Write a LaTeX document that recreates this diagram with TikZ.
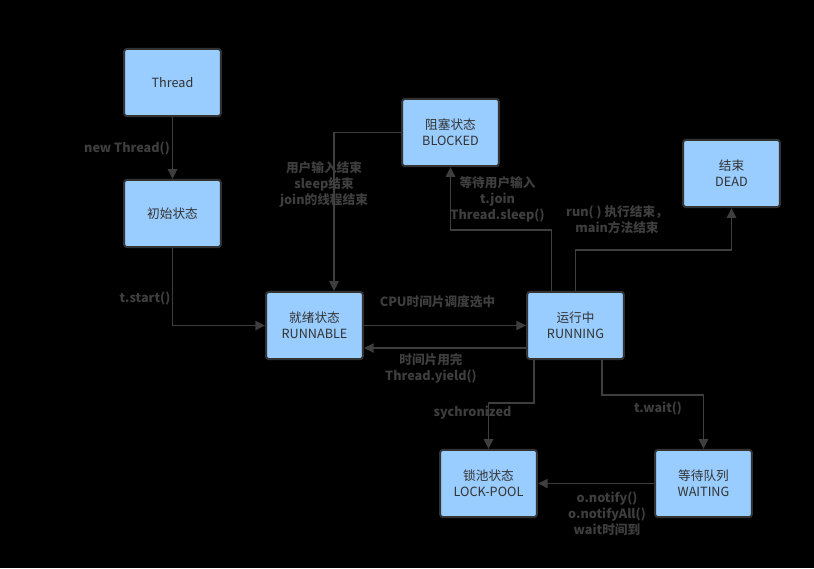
\documentclass[tikz,border=0pt]{standalone}
\usepackage{fontspec}
\setmainfont{Noto Sans CJK SC}
\usetikzlibrary{
    arrows.meta,
    positioning,
    calc
}
\definecolor{stateblue}{HTML}{99CCFF}
\definecolor{wiregray}{HTML}{3E3E3E}
\definecolor{textgray}{HTML}{333333}
\tikzset{
    % --- State box ---
    state/.style = {
        rectangle, draw=textgray, line width=1.4pt, fill=stateblue,
        rounded corners=2pt,
        minimum width=2.42cm, minimum height=1.68cm,
        font=\fontsize{9}{11.3}\selectfont, text=textgray, align=center
    },
    % --- Transition arrow ---
    trans/.style = {
        -{Triangle[length=7pt, width=6.5pt]}, line width=1.4pt, draw=wiregray
    },
    % --- Transition label ---
    translabel/.style = {
        font=\fontsize{9}{11.3}\selectfont\bfseries, text=wiregray,
        align=center, inner sep=0pt
    }
}

\begin{document}
\begin{tikzpicture}[x=0.025cm, y=-0.025cm]

% ---------------------------------------------------------
% Background
% ---------------------------------------------------------
\fill[black] (0,0) rectangle (814,568);
\useasboundingbox (0,0) rectangle (814,568);

% ---------------------------------------------------------
% States
% ---------------------------------------------------------
\node[state] (thread)    at (172.5, 82.5)  {Thread};
\node[state] (init)      at (172.5, 213.5) {初始状态};
\node[state] (blocked)   at (450.5, 132.5) {阻塞状态\\BLOCKED};
\node[state] (dead)      at (731.5, 173.5) {结束\\DEAD};
\node[state] (runnable)  at (314.5, 325.5) {就绪状态\\RUNNABLE};
\node[state] (running)   at (575.5, 325.5) {运行中\\RUNNING};
\node[state] (lockpool)  at (488.5, 483.5) {锁池状态\\LOCK-POOL};
\node[state] (waiting)   at (703.5, 483.5) {等待队列\\WAITING};

% ---------------------------------------------------------
% Transitions
% ---------------------------------------------------------
\draw[trans] (thread) -- (init);
\draw[trans] (init.south) |- (runnable.west);

% blocked -> runnable
\coordinate (unblockIn) at ($(runnable.north)+(19.5,0)$);
\draw[trans] (blocked.west) -| (unblockIn);

% running -> blocked
\coordinate (blockOut) at ($(running.north)+(-24,0)$);
\draw[trans] (blockOut) -- ++(0,-61) -| (blocked.south);

% running -> dead
\draw[trans] (running.north) -- ++(0,-41) -| (dead.south);

% runnable <-> running
\draw[trans] (runnable.east) -- (running.west);
\coordinate (yieldOut) at ($(running.west)+(0,22.5)$);
\coordinate (yieldIn) at ($(runnable.east)+(0,22.5)$);
\draw[trans] (yieldOut) -- (yieldIn);

% running -> lock pool
\coordinate (syncOut) at ($(running.south)+(-41.5,0)$);
\draw[trans] (syncOut) -- ++(0,43) -| (lockpool.north);

% running -> waiting
\coordinate (waitOut) at ($(running.south)+(26.5,0)$);
\draw[trans] (waitOut) -- ++(0,35) -| (waiting.north);

% waiting -> lock pool
\draw[trans] (waiting.west) -- (lockpool.east);

% ---------------------------------------------------------
% Labels
% ---------------------------------------------------------
\node[translabel] (lblNew)     at (127, 148)   {new Thread()};
\node[translabel] (lblStart)   at (145, 298)   {t.start()};
\node[translabel] (lblUnblock) at (324, 184.5) {用户输入结束\\sleep结束\\join的线程结束};
\node[translabel] (lblBlock)   at (497.5, 199.5) {等待用户输入\\t.join\\Thread.sleep()};
\node[translabel] (lblDead)    at (617, 220)   {run( ) 执行结束，\\main方法结束};
\node[translabel] (lblCpu)     at (437.5, 302) {CPU时间片调度选中};
\node[translabel] (lblYield)   at (431, 368)   {时间片用完\\Thread.yield()};
\node[translabel] (lblSync)    at (472.5, 413) {sychronized};
\node[translabel] (lblWait)    at (658, 408)   {t.wait()};
\node[translabel] (lblNotify)  at (607, 514)   {o.notify()\\o.notifyAll()\\wait时间到};

\end{tikzpicture}
\end{document}
